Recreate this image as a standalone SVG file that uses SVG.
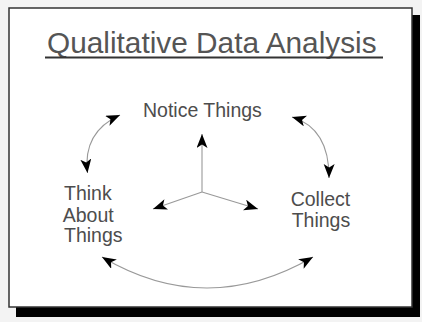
<svg xmlns="http://www.w3.org/2000/svg" width="422" height="322" viewBox="0 0 422 322">
<style>
.lbl{font-family:"Liberation Sans",Arial,sans-serif;font-size:19.5px;fill:#4d4d4d}
.title{font-family:"Liberation Sans",Arial,sans-serif;font-size:29.8px;fill:#555}
.con{fill:none;stroke:#999;stroke-width:1.1}
</style>
<defs>
<marker id="ah" markerUnits="userSpaceOnUse" markerWidth="16" markerHeight="12" refX="14" refY="5.5" orient="auto-start-reverse" viewBox="0 0 16 12">
<path d="M0,0 L14,5.5 L0,11 L3.5,5.5 z" fill="#000"/>
</marker>
</defs>
<rect x="0" y="0" width="422" height="322" fill="#f3f3f3"/>
<rect x="16" y="15" width="404" height="302" fill="#000"/>
<rect x="9" y="8" width="403" height="299" fill="#fff" stroke="#333" stroke-width="1.5"/>
<g id="title">
<text class="title" x="47" y="53">Qualitative Data Analysis</text>
<line x1="45" y1="57.5" x2="383" y2="57.5" stroke="#333" stroke-width="2"/>
</g>
<g id="notice"><text class="lbl" x="143" y="117">Notice Things</text></g>
<g id="think">
<text class="lbl" x="64" y="199.5">Think</text>
<text class="lbl" x="62.7" y="221.5">About</text>
<text class="lbl" x="64" y="241.7">Things</text>
</g>
<g id="collect">
<text class="lbl" x="290.7" y="206">Collect</text>
<text class="lbl" x="291.7" y="226.7">Things</text>
</g>
<g id="connectors">
<path class="con" d="M87.5,173 Q82.5,132 120,115" marker-start="url(#ah)" marker-end="url(#ah)"/>
<path class="con" d="M292,117 Q329.5,128.5 329,178" marker-start="url(#ah)" marker-end="url(#ah)"/>
<path class="con" d="M102,257 Q206.5,319 313,257" marker-start="url(#ah)" marker-end="url(#ah)"/>
<path class="con" d="M202,192 L202,134" marker-end="url(#ah)"/>
<path class="con" d="M202,192 L153,209" marker-end="url(#ah)"/>
<path class="con" d="M202,192 L258,209" marker-end="url(#ah)"/>
</g>
</svg>
